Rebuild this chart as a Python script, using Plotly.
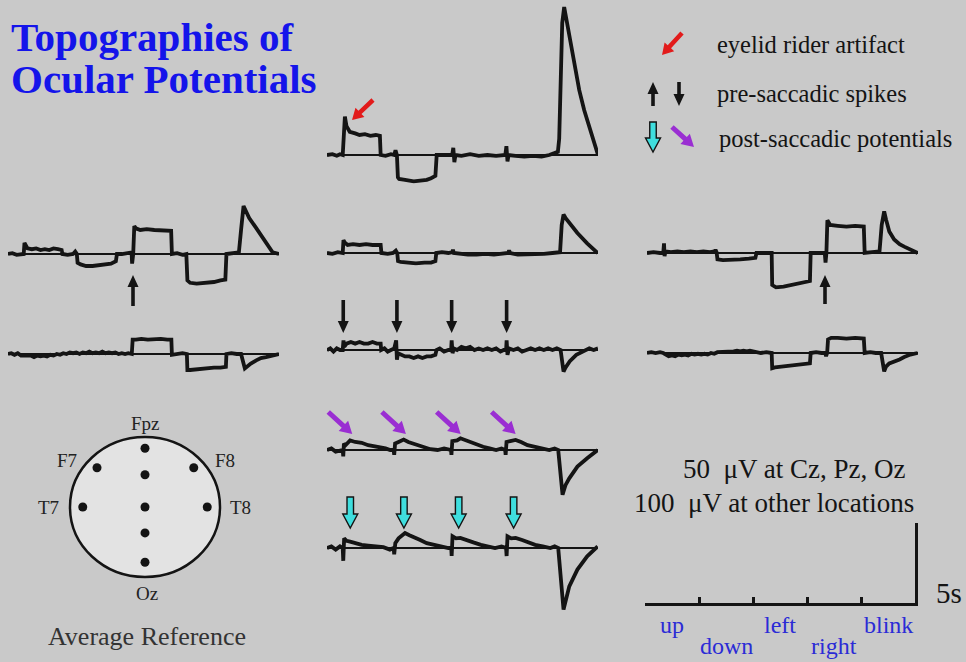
import math
import plotly.graph_objects as go

W, H = 966, 662
BG = "#c9c9c9"
SERIF = "Liberation Serif"
INK = "#141414"

# Time base: five 5-second epochs per trace
T_END = 25.0
SEGMENTS = ["up", "down", "left", "right", "blink"]
SEG_LEN = 5.0
SACCADE_ONSETS = [1.5, 6.45, 11.5, 16.57]   # s

# Recorded averages, (time s, amplitude µV), average reference
fpz = [(0.0, 0), (0.5, 1), (0.9, -1), (1.2, 1), (1.45, 0), (1.55, 40), (1.65, 48), (1.8, 36),
       (2.1, 29), (2.6, 27), (3.0, 25), (3.5, 26), (4.0, 24), (4.5, 25), (4.88, 24), (4.95, 0),
       (5.4, -1), (5.9, 1), (6.2, 0), (6.32, 6), (6.45, 0), (6.54, -28), (6.65, -30), (7.2, -31),
       (8.0, -33), (8.6, -32), (9.2, -31), (9.6, -29), (10.0, -26), (10.12, 0), (10.6, 0),
       (11.2, -1), (11.55, 0), (11.65, 9), (11.75, -9), (11.85, 0), (12.4, -1), (13.2, 1),
       (14.0, -1), (14.8, 0), (15.6, -1), (16.45, 0), (16.55, 11), (16.65, -8), (16.75, 0),
       (17.4, -1), (18.2, -2), (19.0, -1), (19.8, -2), (20.5, 0), (21.0, 2), (21.3, 4),
       (21.42, 20), (21.55, 110), (21.7, 165), (21.88, 185), (22.0, 176), (22.35, 150),
       (22.8, 110), (23.27, 81), (23.73, 56), (24.2, 35), (24.66, 15), (25.0, 0)]

f7 = [(0.0, 0), (0.4, 1), (0.8, -1), (1.2, 0), (1.45, 0), (1.52, 14), (1.62, 12), (1.8, 7),
      (2.2, 6), (2.6, 7), (3.0, 5), (3.4, 6), (3.8, 5), (4.2, 7), (4.6, 6), (4.95, 5), (5.02, 0),
      (5.5, -1), (6.0, 0), (6.2, 3), (6.35, 0), (6.42, -11), (6.7, -13), (7.2, -15), (7.8, -15),
      (8.4, -14), (9.0, -13), (9.5, -12), (9.95, -9), (10.05, 0), (10.5, 0), (11.0, 1),
      (11.4, 2), (11.45, -12), (11.55, 0), (11.65, 35), (11.8, 32), (12.2, 30), (12.8, 31),
      (13.5, 30), (14.2, 30), (14.8, 29), (15.05, 29), (15.12, 0), (15.6, 1), (16.1, -1),
      (16.45, 0), (16.55, -33), (16.8, -36), (17.4, -37), (18.2, -36), (19.0, -35),
      (19.6, -33), (20.05, -32), (20.15, 0), (20.6, 1), (21.0, 1), (21.3, 2), (21.5, 30),
      (21.73, 60), (21.9, 55), (22.25, 45), (22.87, 33), (23.64, 18), (24.41, 2), (25.0, 0)]

fz = [(0.0, 0), (0.5, -1), (1.0, 1), (1.45, 0), (1.52, 16), (1.65, 13), (1.9, 10), (2.4, 11),
      (3.0, 10), (3.6, 11), (4.2, 10), (4.95, 10), (5.02, 0), (5.6, -1), (6.1, 0), (6.35, 3),
      (6.48, 0), (6.55, -10), (6.8, -11), (7.4, -12), (8.2, -13), (9.0, -12), (9.6, -12),
      (10.0, -10), (10.08, 0), (10.6, 1), (11.2, 0), (11.55, 1), (11.62, 4), (11.7, 0),
      (12.2, -1), (13.0, -2), (13.8, -2), (14.6, -1), (15.4, -2), (16.2, -1), (16.7, 0),
      (16.8, 3), (16.9, 0), (17.6, -2), (18.4, -2), (19.2, -2), (20.0, -1), (20.8, 0),
      (21.3, 0), (21.5, 1), (21.65, 35), (21.82, 48), (22.0, 44), (22.35, 38), (23.1, 25),
      (24.0, 12), (24.97, 0)]

f8 = [(0.0, 0), (0.6, 1), (1.2, 0), (1.5, 0), (1.57, 12), (1.62, -4), (1.7, 2), (2.2, 1),
      (2.8, 2), (3.4, 1), (4.0, 2), (4.6, 1), (5.2, 2), (5.8, 1), (6.25, 2), (6.32, 4),
      (6.42, 1), (6.5, -8), (7.0, -9), (7.8, -9), (8.6, -8), (9.4, -7), (10.0, -6), (10.1, 0),
      (10.6, 0), (11.2, 1), (11.5, 0), (11.55, -40), (11.9, -43), (12.6, -42), (13.4, -40),
      (14.2, -37), (15.03, -35), (15.1, 0), (15.6, 0), (16.2, 1), (16.4, 0), (16.47, -12),
      (16.55, 0), (16.64, 41), (16.9, 35), (17.6, 34), (18.4, 33), (19.2, 34), (20.0, 33),
      (20.08, 0), (20.6, 1), (21.2, 1), (21.45, 2), (21.65, 35), (21.88, 52), (22.05, 42),
      (22.35, 27), (22.8, 17), (23.3, 11), (23.73, 8), (24.3, 4), (24.97, 0)]

t7 = [(0.0, 0), (0.3, 1), (0.6, -1), (0.9, 1), (1.2, -2), (1.5, -2), (1.8, -3), (2.1, -2),
      (2.4, -4), (2.7, -2), (3.0, -3), (3.3, -2), (3.6, -3), (3.9, -1), (4.2, -2), (4.5, 0),
      (4.8, -1), (5.1, 1), (5.4, 0), (5.7, 2), (6.0, 1), (6.3, 2), (6.6, 0), (6.9, 2),
      (7.2, 1), (7.5, 3), (7.8, 1), (8.1, 2), (8.4, 1), (8.7, 3), (9.0, 1), (9.3, 2),
      (9.6, 1), (9.9, 2), (10.2, 0), (10.5, 1), (10.8, 0), (11.1, 1), (11.42, 0), (11.5, 18),
      (11.8, 18), (12.3, 19), (12.9, 18), (13.5, 19), (14.1, 19), (14.7, 18), (15.07, 18),
      (15.12, -1), (15.6, 0), (16.1, 1), (16.5, 0), (16.55, -20), (16.8, -20), (17.4, -19),
      (18.2, -18), (19.0, -17), (19.6, -17), (20.1, -16), (20.15, 0), (20.6, 1), (21.1, 0),
      (21.5, 0), (21.85, -18), (22.0, -16), (22.4, -12), (22.9, -8), (23.33, -5), (23.8, -4),
      (24.26, -2), (24.6, -1), (25.0, 0)]

cz = [(0.0, 0), (0.3, 1), (0.6, -1), (0.9, 1), (1.2, 0), (1.45, 0), (1.52, 6), (1.6, 2),
      (1.8, 4), (2.2, 5), (2.6, 4), (3.0, 5), (3.4, 4), (3.8, 4), (4.2, 5), (4.6, 4),
      (4.95, 4), (5.0, 0), (5.3, 1), (5.6, -1), (5.9, 0), (6.2, 1), (6.38, 6), (6.45, -6),
      (6.55, -2), (6.8, -3), (7.2, -4), (7.6, -4), (8.0, -5), (8.4, -4), (8.8, -5), (9.2, -4),
      (9.6, -4), (10.0, -3), (10.1, 0), (10.4, 1), (10.8, -1), (11.2, 0), (11.45, 0),
      (11.5, 6), (11.58, -2), (11.7, 1), (12.0, 0), (12.4, 2), (12.8, 1), (13.2, 2),
      (13.6, 0), (14.0, 1), (14.4, 0), (14.8, 1), (15.2, 0), (15.6, 1), (16.0, -1),
      (16.3, 0), (16.52, 0), (16.57, 6), (16.65, -3), (16.8, 1), (17.2, 0), (17.6, 1),
      (18.0, -1), (18.4, 0), (18.8, 1), (19.2, 0), (19.6, 1), (20.0, 0), (20.4, 1),
      (20.8, 0), (21.2, 1), (21.55, 0), (21.82, -13.5), (22.0, -11), (22.4, -7), (23.0, -3),
      (23.6, -1), (24.2, 1), (24.6, 0), (25.0, 1)]

t8 = [(0.0, 0), (0.4, 1), (0.8, 0), (1.2, 1), (1.5, 0), (1.7, -2), (2.0, -4), (2.3, -3),
      (2.6, -4), (2.9, -2), (3.2, -3), (3.5, -2), (3.8, -3), (4.1, -1), (4.4, -2), (4.7, -1),
      (5.0, -2), (5.3, -1), (5.6, -2), (5.9, 0), (6.2, -1), (6.5, 1), (6.8, 1), (7.1, 2),
      (7.4, 1), (7.7, 2), (8.0, 2), (8.3, 3), (8.6, 2), (8.9, 3), (9.2, 2), (9.5, 3),
      (9.8, 2), (10.1, 1), (10.5, 0), (11.0, 1), (11.5, 0), (11.55, -19), (11.8, -18),
      (12.4, -17), (13.2, -16), (14.0, -15), (14.6, -14), (15.03, -13), (15.1, 0), (15.6, 1),
      (16.1, 0), (16.45, 0), (16.52, -4), (16.62, 0), (16.7, 17), (17.0, 19), (17.6, 19),
      (18.4, 18), (19.2, 19), (20.0, 18), (20.08, 0), (20.6, 1), (21.1, 0), (21.6, 0),
      (21.88, -23), (22.05, -17), (22.35, -13), (22.8, -11), (23.3, -8), (23.73, -5),
      (24.3, -2), (24.97, 0)]

pz = [(0.0, 0), (0.4, 1), (0.8, -1), (1.2, 0), (1.45, 0), (1.5, -4), (1.56, 4), (1.7, 3),
      (2.13, 6), (2.6, 5), (3.2, 4.5), (3.8, 3), (4.3, 2.5), (4.9, 1.5), (5.4, 1), (5.83, 0),
      (6.15, 0), (6.2, -3), (6.28, 4), (6.6, 5), (7.07, 6.5), (7.5, 5), (8.0, 4), (8.6, 2.5),
      (9.2, 1.5), (9.54, 0.5), (10.2, 0), (10.8, 1), (11.44, 0), (11.48, -3), (11.56, 5.5),
      (12.0, 6), (12.31, 7.3), (12.8, 6), (13.2, 5), (13.8, 3), (14.4, 2), (15.0, 1),
      (15.6, 0), (16.1, 1), (16.44, 0), (16.48, -3), (16.56, 5), (16.9, 5.5), (17.4, 6.3),
      (17.9, 5), (18.5, 3), (19.2, 2), (19.9, 1), (20.5, 0), (21.0, 1), (21.33, 0),
      (21.73, -28), (22.0, -22), (22.35, -17.7), (23.1, -10.4), (24.0, -5.2), (24.97, 0)]

oz = [(0.0, 0), (0.4, 1), (0.8, -1), (1.2, 1), (1.45, 0), (1.5, -8), (1.58, 6), (1.8, 4.5),
      (2.13, 4), (2.6, 3), (3.2, 2), (3.8, 1.5), (4.5, 1), (5.2, 0.5), (5.8, -1), (6.15, 0),
      (6.2, -4), (6.3, 3), (6.6, 6), (7.0, 8.5), (7.2, 9.4), (7.6, 8), (8.0, 7), (8.6, 5),
      (9.2, 3), (9.9, 2), (10.6, 0.5), (11.2, 0), (11.46, 0), (11.5, -5), (11.58, 7.3),
      (11.9, 6), (12.3, 6.3), (12.8, 5), (13.5, 3.5), (14.2, 2), (14.8, 1), (15.5, 0),
      (16.1, 1), (16.52, 0), (16.57, -5), (16.65, 7.3), (17.0, 6), (17.4, 6.3), (18.0, 5),
      (18.6, 3.5), (19.2, 2), (19.9, 1), (20.6, 0), (21.0, 1), (21.33, 0), (21.82, -38.5),
      (22.0, -33), (22.35, -24), (23.1, -13.5), (24.0, -5.2), (24.97, 1)]

# Electrode montage on a unit head circle
ELECTRODES = ["Fpz", "Fz", "Cz", "Pz", "Oz", "F7", "F8", "T7", "T8"]
ELEC_X = [0, 0, 0, 0, 0, -0.64, 0.65, -0.83, 0.83]
ELEC_Y = [0.84, 0.46, 0, -0.37, -0.79, 0.56, 0.56, 0, 0]
HEAD_LABELS = ["Fpz", "F7", "F8", "T7", "T8", "Oz"]
HEAD_LABEL_X = [0, -1.04, 1.07, -1.29, 1.27, 0.03]
HEAD_LABEL_Y = [1.2, 0.67, 0.67, 0, 0, -1.23]

BAR_UV_LARGE = 100   # calibration for frontal / temporal sites
BAR_UV_SMALL = 50    # calibration for Cz, Pz, Oz

# ---------------------------------------------------------------- layout
PANEL_W = 271
PX_PER_S = PANEL_W / T_END
BAR_PX = 80

panels = [
    ("Fpz", fpz, 327, 155, BAR_UV_LARGE),
    ("F7", f7, 8, 254, BAR_UV_LARGE),
    ("Fz", fz, 327, 253, BAR_UV_LARGE),
    ("F8", f8, 647, 253, BAR_UV_LARGE),
    ("T7", t7, 8, 354, BAR_UV_LARGE),
    ("Cz", cz, 327, 350, BAR_UV_SMALL),
    ("T8", t8, 647, 353, BAR_UV_LARGE),
    ("Pz", pz, 327, 450, BAR_UV_SMALL),
    ("Oz", oz, 327, 548, BAR_UV_SMALL),
]


def axkey(letter, i):
    return f"{letter}axis" if i == 1 else f"{letter}axis{i}"


def axref(letter, i):
    return letter if i == 1 else f"{letter}{i}"


def xdom(a, b):
    return [a / W, b / W]


def ydom(top, bottom):
    return [1 - bottom / H, 1 - top / H]


fig = go.Figure()
layout = dict(width=W, height=H, margin=dict(l=0, r=0, t=0, b=0),
              paper_bgcolor=BG, plot_bgcolor="rgba(0,0,0,0)",
              showlegend=False, template="none")

for i, (name, data, left, base, bar_uv) in enumerate(panels, start=1):
    ts = [p[0] for p in data]
    vs = [p[1] for p in data]
    k = BAR_PX / bar_uv
    vmax, vmin = max(vs) + 3, min(vs) - 3
    top, bottom = base - vmax * k, base - vmin * k
    layout[axkey("x", i)] = dict(domain=xdom(left, left + PANEL_W), range=[0, T_END],
                                 visible=False, anchor=axref("y", i))
    layout[axkey("y", i)] = dict(domain=ydom(top, bottom), range=[vmin, vmax],
                                 anchor=axref("x", i), showgrid=False,
                                 showticklabels=False, ticks="", showline=False,
                                 zeroline=True, zerolinecolor=INK, zerolinewidth=1.6)
    fig.add_trace(go.Scatter(x=ts, y=vs, xaxis=axref("x", i), yaxis=axref("y", i),
                             mode="lines", name=name, hoverinfo="skip",
                             line=dict(color=INK, width=3.8)))

# head schematic (axis 10), unit circle = head outline
HX, HY, HRX, HRY = 145, 507, 75, 70
layout["xaxis10"] = dict(domain=xdom(HX - 1.5 * HRX, HX + 1.5 * HRX), range=[-1.5, 1.5],
                         anchor="y10", visible=False)
layout["yaxis10"] = dict(domain=ydom(HY - 1.5 * HRY, HY + 1.5 * HRY), range=[-1.5, 1.5],
                         anchor="x10", visible=False)
fig.add_shape(type="circle", xref="x10", yref="y10", x0=-1, x1=1, y0=-1, y1=1,
              fillcolor="#e3e3e3", line=dict(color=INK, width=2.5), layer="below")
fig.add_trace(go.Scatter(x=ELEC_X, y=ELEC_Y, xaxis="x10", yaxis="y10", mode="markers",
                         text=ELECTRODES, hoverinfo="text",
                         marker=dict(color=INK, size=9)))
for lab, lx, ly in zip(HEAD_LABELS, HEAD_LABEL_X, HEAD_LABEL_Y):
    fig.add_annotation(x=lx, y=ly, xref="x10", yref="y10", text=lab, showarrow=False,
                       font=dict(family=SERIF, size=19, color="#222222"))

# calibration bars (axis 11): time axis below, amplitude bar on the right
BAR_BOTTOM = 603
layout["xaxis11"] = dict(domain=xdom(645, 915), range=[0, T_END], anchor="y11",
                         showline=True, linecolor=INK, linewidth=3, ticks="inside",
                         tickvals=[SEG_LEN * j for j in range(len(SEGMENTS))],
                         ticklen=6, tickwidth=2.5, tickcolor=INK,
                         showticklabels=False, showgrid=False, zeroline=False)
layout["yaxis11"] = dict(domain=ydom(BAR_BOTTOM - BAR_PX, BAR_BOTTOM),
                         range=[0, BAR_UV_LARGE], anchor="x11", side="right",
                         showline=True, linecolor=INK, linewidth=3, ticks="",
                         showticklabels=False, showgrid=False, zeroline=False)
# the calibration subplot needs a trace of its own to be laid out
fig.add_trace(go.Scatter(x=[0, T_END], y=[0, BAR_UV_LARGE], xaxis="x11", yaxis="y11",
                         mode="markers", hoverinfo="skip",
                         marker=dict(size=1, opacity=0)))

# pixel overlay (axis 12) for titles, legend and pointer arrows
layout["xaxis12"] = dict(domain=[0, 1], range=[0, W], anchor="y12", visible=False)
layout["yaxis12"] = dict(domain=[0, 1], range=[H, 0], anchor="x12", visible=False)
fig.add_trace(go.Scatter(x=[0, W], y=[0, H], xaxis="x12", yaxis="y12",
                         mode="markers", hoverinfo="skip",
                         marker=dict(size=1, opacity=0)))

fig.update_layout(**layout)


def note(x, y, text, size, color=INK, anchor="left", bold=False, xref="x12"):
    fig.add_annotation(x=x, y=y, xref=xref, yref="y12", text=text, showarrow=False,
                       xanchor=anchor, yanchor="middle",
                       font=dict(family=SERIF, size=size, color=color,
                                 weight="bold" if bold else "normal"))


TITLE_BLUE = "#1414ea"
LABEL_BLUE = "#2b2bd6"
note(9, 37, "Topographies of", 41, TITLE_BLUE, bold=True)
note(9, 79, "Ocular Potentials", 41, TITLE_BLUE, bold=True)

note(715, 44, "eyelid rider artifact", 24.5)
note(715, 93, "pre-saccadic spikes", 24.5)
note(717, 138, "post-saccadic potentials", 24.5)

MU = "\u2002μV"
note(681, 469, f"{BAR_UV_SMALL}{MU} at Cz, Pz, Oz", 27)
note(632, 503, f"{BAR_UV_LARGE}{MU} at other locations", 27)
note(934, 593, f"{int(SEG_LEN)}s", 29)
for j, seg in enumerate(SEGMENTS):
    note(SEG_LEN * j + SEG_LEN / 2, 625 if j % 2 == 0 else 646, seg, 24, LABEL_BLUE,
         anchor="center", xref="x11")

note(147, 636, "Average Reference", 26, "#333333", anchor="center")


def arrow_path(tail, head, shaft, head_w, head_l):
    (x0, y0), (x1, y1) = tail, head
    L = math.hypot(x1 - x0, y1 - y0)
    ux, uy = (x1 - x0) / L, (y1 - y0) / L
    nx, ny = -uy, ux
    bx, by = x1 - ux * head_l, y1 - uy * head_l
    s, h = shaft / 2, head_w / 2
    pts = [(x0 + nx * s, y0 + ny * s), (bx + nx * s, by + ny * s),
           (bx + nx * h, by + ny * h), (x1, y1), (bx - nx * h, by - ny * h),
           (bx - nx * s, by - ny * s), (x0 - nx * s, y0 - ny * s)]
    return "M " + " L ".join(f"{px:.2f},{py:.2f}" for px, py in pts) + " Z"


def arrow(tail, head, color, shaft=3.6, head_w=11, head_l=12, outline=None):
    fig.add_shape(type="path", xref="x12", yref="y12",
                  path=arrow_path(tail, head, shaft, head_w, head_l),
                  fillcolor=color, layer="above",
                  line=dict(color=outline or color, width=1.4 if outline else 0))


RED, PURPLE, CYAN = "#e21b1b", "#9a2ed2", "#3fdede"


def red_arrow(tail, head):
    arrow(tail, head, RED, shaft=4.5, head_w=13, head_l=11)


def purple_arrow(tail, head):
    arrow(tail, head, PURPLE, shaft=5, head_w=14, head_l=12)


def cyan_arrow(tail, head):
    arrow(tail, head, CYAN, shaft=6.5, head_w=15, head_l=14, outline=INK)


# legend glyphs
red_arrow((682, 33), (662, 55))
arrow((653, 106), (653, 82), INK)
arrow((679, 82), (679, 106), INK)
cyan_arrow((653, 122), (653, 152))
purple_arrow((672, 127), (694, 147))

# eyelid rider at Fpz
red_arrow((373, 100), (352, 120))
# pre-saccadic spike markers at F7 / F8 (leftward and rightward saccades)
arrow((133, 306), (133, 275), INK)
arrow((825, 304), (825, 275), INK)
# pre-saccadic spikes at Cz, post-saccadic potentials at Pz and Oz
MID_LEFT = 327
for onset in SACCADE_ONSETS:
    xs = MID_LEFT + onset * PX_PER_S
    arrow((xs, 300), (xs, 333), INK)
    purple_arrow((xs - 15, 412), (xs + 9, 434))
    cyan_arrow((xs + 7, 497), (xs + 7, 528))

fig.write_html("out.html")
